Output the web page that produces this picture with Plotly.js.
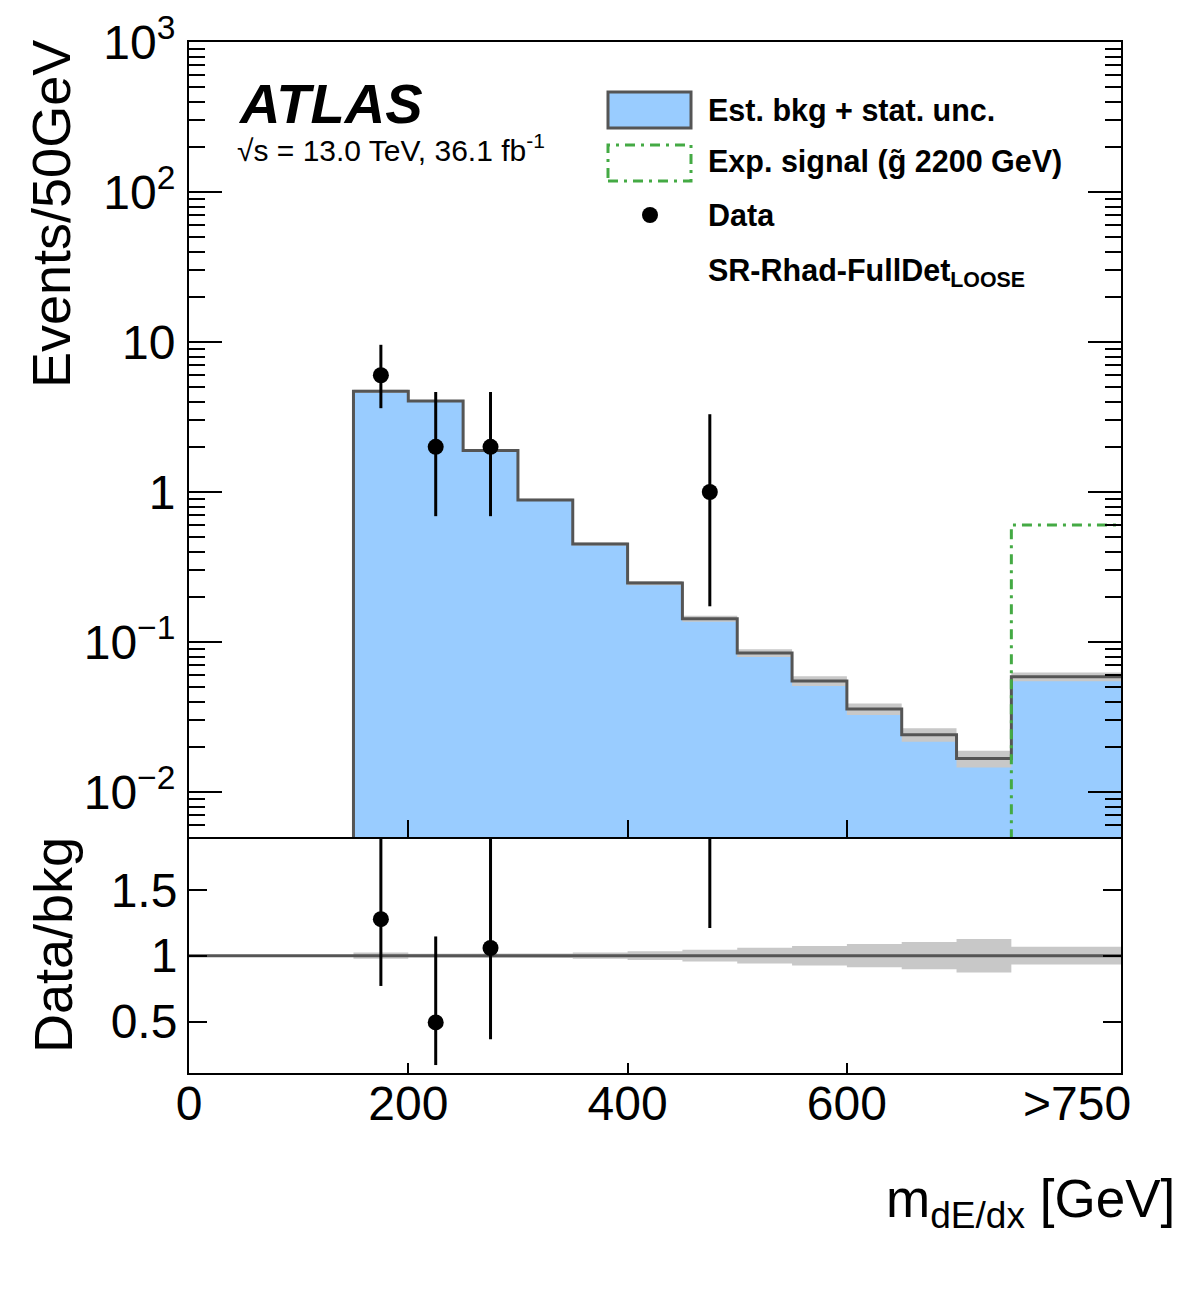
<!DOCTYPE html>
<html>
<head>
<meta charset="utf-8">
<script src="https://cdn.plot.ly/plotly-3.0.1.min.js"></script>
<style>
  html, body { margin: 0; padding: 0; background: #ffffff; }
  #chart { width: 1182px; height: 1311px; }
</style>
</head>
<body>
<div id="chart"></div>
<script>
// ---------------- data ----------------
const binEdges = [0, 50, 100, 150, 200, 250, 300, 350, 400, 450, 500, 550, 600, 650, 700, 750, 850];
const bkgValues = [0, 0, 0, 4.7, 4.05, 1.89, 0.885, 0.45, 0.247, 0.143, 0.0845, 0.055, 0.0357, 0.0241, 0.0167, 0.0587];
const bkgStatRel = [0, 0, 0, 0.024, 0.014, 0.014, 0.017, 0.024, 0.033, 0.045, 0.060, 0.074, 0.088, 0.103, 0.127, 0.067];
const signalValues = [0, 0, 0, 0, 0, 0, 0, 0, 0, 0, 0, 0, 0, 0, 0, 0.603];

const dataX = [175, 225, 275, 475];
const dataY = [6, 2, 2, 1];
const dataLow = [3.62, 0.69, 0.69, 0.173];
const dataHigh = [9.58, 4.64, 4.64, 3.30];

const xTickMarks = [200, 400, 600];
const xTickVals = [0, 200, 400, 600, 810];
const xTickText = ['0', '200', '400', '600', '>750'];
const yTickVals = [0.01, 0.1, 1, 10, 100, 1000];
const yTickText = ['10<sup>\u22122</sup>', '10<sup>\u22121</sup>', '1', '10', '10<sup>2</sup>', '10<sup>3</sup>'];
const ratioTickVals = [0.5, 1, 1.5];
const ratioTickText = ['0.5', '1', '1.5'];

// ---------------- helpers ----------------
const FLOOR = 1e-4;           // zero bins drawn below the visible log range
const X_RANGE = [0, 850];
const Y_LOG_RANGE = [-2.3, 3.0];
const RATIO_RANGE = [0.11, 1.9];

const FONT = 'Liberation Sans, Arial, Helvetica, sans-serif';
const BLUE = '#99ccff';
const OUTLINE = '#555555';
const BAND = '#c8c8c8';
const GREEN = '#44aa44';
const SIG_DASH = '10px,6px,3px,6px';

function stepLine(values) {
  const xs = [], ys = [];
  for (let i = 0; i < values.length; i++) {
    const v = Math.max(values[i], FLOOR);
    xs.push(binEdges[i], binEdges[i + 1]);
    ys.push(v, v);
  }
  return { x: xs, y: ys };
}
function stepFill(values) {
  const s = stepLine(values);
  return { x: [binEdges[0]].concat(s.x, [binEdges[binEdges.length - 1]]),
           y: [FLOOR].concat(s.y, [FLOOR]) };
}
function bandPolygon(centerFn, relErr, mask) {
  const up = { x: [], y: [] }, lo = { x: [], y: [] };
  for (let i = 0; i < relErr.length; i++) {
    if (!mask(i)) continue;
    const c = centerFn(i);
    up.x.push(binEdges[i], binEdges[i + 1]);
    up.y.push(c * (1 + relErr[i]), c * (1 + relErr[i]));
    lo.x.push(binEdges[i], binEdges[i + 1]);
    lo.y.push(c * (1 - relErr[i]), c * (1 - relErr[i]));
  }
  return { x: up.x.concat(lo.x.slice().reverse()), y: up.y.concat(lo.y.slice().reverse()) };
}
function binIndex(x) {
  for (let i = 0; i < binEdges.length - 1; i++) if (x >= binEdges[i] && x < binEdges[i + 1]) return i;
  return binEdges.length - 2;
}
function minorLogTicks(lo, hi) {
  const out = [];
  for (let d = lo; d <= hi; d++) for (let k = 2; k <= 9; k++) out.push(k * Math.pow(10, d));
  return out;
}

// ---------------- traces ----------------
const fillPath = stepFill(bkgValues);
const outlinePath = stepLine(bkgValues);
const mainBand = bandPolygon(i => bkgValues[i], bkgStatRel, i => bkgValues[i] > 0);
const ratioBand = bandPolygon(() => 1, bkgStatRel, i => bkgValues[i] > 0);
const sigPath = stepLine(signalValues);

const ratioY = dataY.map((v, k) => v / bkgValues[binIndex(dataX[k])]);
const ratioUp = dataHigh.map((v, k) => v / bkgValues[binIndex(dataX[k])] - ratioY[k]);
const ratioDn = dataLow.map((v, k) => ratioY[k] - v / bkgValues[binIndex(dataX[k])]);

const traces = [
  { type: 'scatter', mode: 'lines', x: fillPath.x, y: fillPath.y, fill: 'toself',
    fillcolor: BLUE, line: { width: 0 }, hoverinfo: 'skip', showlegend: false, xaxis: 'x', yaxis: 'y' },
  { type: 'scatter', mode: 'lines', x: mainBand.x, y: mainBand.y, fill: 'toself',
    fillcolor: BAND, line: { width: 0 }, hoverinfo: 'skip', showlegend: false, xaxis: 'x', yaxis: 'y' },
  { type: 'scatter', mode: 'lines', x: outlinePath.x, y: outlinePath.y,
    line: { color: OUTLINE, width: 3 }, showlegend: false, xaxis: 'x', yaxis: 'y' },
  { type: 'scatter', mode: 'lines', x: sigPath.x, y: sigPath.y,
    line: { color: GREEN, width: 3, dash: SIG_DASH }, showlegend: false, xaxis: 'x', yaxis: 'y' },
  { type: 'scatter', mode: 'markers', x: dataX, y: dataY,
    marker: { color: '#000000', size: 16 },
    error_y: { type: 'data', symmetric: false,
               array: dataHigh.map((v, k) => v - dataY[k]),
               arrayminus: dataY.map((v, k) => v - dataLow[k]),
               color: '#000000', thickness: 3, width: 0 },
    showlegend: false, xaxis: 'x', yaxis: 'y' },
  // ratio panel
  { type: 'scatter', mode: 'lines', x: ratioBand.x, y: ratioBand.y, fill: 'toself',
    fillcolor: BAND, line: { width: 0 }, hoverinfo: 'skip', showlegend: false, xaxis: 'x2', yaxis: 'y2' },
  { type: 'scatter', mode: 'lines', x: X_RANGE, y: [1, 1],
    line: { color: OUTLINE, width: 3 }, showlegend: false, xaxis: 'x2', yaxis: 'y2' },
  { type: 'scatter', mode: 'markers', x: dataX, y: ratioY,
    marker: { color: '#000000', size: 16 },
    error_y: { type: 'data', symmetric: false, array: ratioUp, arrayminus: ratioDn,
               color: '#000000', thickness: 3, width: 0 },
    showlegend: false, xaxis: 'x2', yaxis: 'y2' }
];

// ---------------- layout ----------------
const L = 189, R = 61, T = 42, B = 238, W = 1182, H = 1311;
const plotW = W - L - R, plotH = H - T - B;
const px = x => (x - L) / plotW;            // page px -> paper x
const py = y => (H - B - y) / plotH;        // page px -> paper y
const split = py(837);

const tickFont = { family: FONT, size: 48, color: '#000' };
const axisCommon = { showgrid: false, zeroline: false, linecolor: '#000', linewidth: 2,
                     tickcolor: '#000', tickwidth: 2, ticks: 'inside', tickfont: tickFont };

const layout = {
  width: W, height: H,
  margin: { l: L, r: R, t: T, b: B, pad: 0 },
  paper_bgcolor: '#fff', plot_bgcolor: '#fff',
  showlegend: false,
  font: { family: FONT, color: '#000' },
  xaxis: Object.assign({}, axisCommon, { domain: [0, 1], anchor: 'y', range: X_RANGE, matches: 'x2',
    tickvals: xTickMarks, ticklen: 17, showticklabels: false, mirror: true }),
  yaxis: Object.assign({}, axisCommon, { domain: [split, 1], anchor: 'x', type: 'log', range: Y_LOG_RANGE,
    tickvals: yTickVals, ticktext: yTickText, ticklen: 33, mirror: 'allticks', ticklabelstandoff: 2,
    minor: { tickvals: minorLogTicks(-3, 2), ticks: 'inside', ticklen: 16, tickcolor: '#000', tickwidth: 2, showgrid: false } }),
  xaxis2: Object.assign({}, axisCommon, { domain: [0, 1], anchor: 'y2', range: X_RANGE,
    ticks: 'inside', ticklen: 0, tickwidth: 0, tickvals: xTickVals, ticktext: xTickText, mirror: false,
    ticklabelstandoff: -13,
    minor: { tickvals: xTickMarks, ticks: 'inside', ticklen: 10, tickcolor: '#000', tickwidth: 2, showgrid: false } }),
  yaxis2: Object.assign({}, axisCommon, { domain: [0, split], anchor: 'x2', range: RATIO_RANGE,
    tickvals: ratioTickVals, ticktext: ratioTickText, ticklen: 18, mirror: 'allticks', ticklabelstandoff: 0 }),
  shapes: [
    { type: 'rect', xref: 'paper', yref: 'paper', x0: px(608), x1: px(691), y0: py(128), y1: py(92),
      fillcolor: BLUE, line: { color: OUTLINE, width: 3 }, layer: 'above' },
    { type: 'rect', xref: 'paper', yref: 'paper', x0: px(608), x1: px(691), y0: py(181), y1: py(145),
      fillcolor: 'rgba(0,0,0,0)', line: { color: GREEN, width: 3, dash: SIG_DASH }, layer: 'above' },
    { type: 'circle', xref: 'paper', yref: 'paper', xsizemode: 'pixel', ysizemode: 'pixel',
      xanchor: px(650), yanchor: py(215), x0: -8, x1: 8, y0: -8, y1: 8,
      fillcolor: '#000', line: { width: 0 }, layer: 'above' }
  ],
  annotations: [
    { xref: 'paper', yref: 'paper', x: px(236), y: py(104), xanchor: 'left', yanchor: 'middle', showarrow: false,
      text: '<b><i>ATLAS</i></b>', font: { family: FONT, size: 56, color: '#000' } },
    { xref: 'paper', yref: 'paper', x: px(235), y: py(148), xanchor: 'left', yanchor: 'middle', showarrow: false,
      text: '\u221As = 13.0 TeV, 36.1 fb<sup>-1</sup>', font: { family: FONT, size: 30, color: '#000' } },
    { xref: 'paper', yref: 'paper', x: px(706), y: py(110), xanchor: 'left', yanchor: 'middle', showarrow: false,
      text: '<b>Est. bkg + stat. unc.</b>', font: { family: FONT, size: 30.5, color: '#000' } },
    { xref: 'paper', yref: 'paper', x: px(706), y: py(162), xanchor: 'left', yanchor: 'middle', showarrow: false,
      text: '<b>Exp. signal (g\u0303 2200 GeV)</b>', font: { family: FONT, size: 30.5, color: '#000' } },
    { xref: 'paper', yref: 'paper', x: px(706), y: py(215), xanchor: 'left', yanchor: 'middle', showarrow: false,
      text: '<b>Data</b>', font: { family: FONT, size: 30.5, color: '#000' } },
    { xref: 'paper', yref: 'paper', x: px(706), y: py(272), xanchor: 'left', yanchor: 'middle', showarrow: false,
      text: '<b>SR-Rhad-FullDet<sub>LOOSE</sub></b>', font: { family: FONT, size: 30.5, color: '#000' } },
    { xref: 'paper', yref: 'paper', x: px(51), y: py(38), xanchor: 'center', yanchor: 'top', showarrow: false,
      textangle: -90, text: 'Events/50GeV', font: { family: FONT, size: 54, color: '#000' } },
    { xref: 'paper', yref: 'paper', x: px(53), y: py(945), xanchor: 'center', yanchor: 'middle', showarrow: false,
      textangle: -90, text: 'Data/bkg', font: { family: FONT, size: 54, color: '#000' } },
    { xref: 'paper', yref: 'paper', x: px(1177), y: py(1202), xanchor: 'right', yanchor: 'middle', showarrow: false,
      text: 'm<sub>dE/dx</sub> [GeV]', font: { family: FONT, size: 53, color: '#000' } }
  ]
};

Plotly.newPlot('chart', traces, layout, { staticPlot: true, displayModeBar: false });
</script>
</body>
</html>
